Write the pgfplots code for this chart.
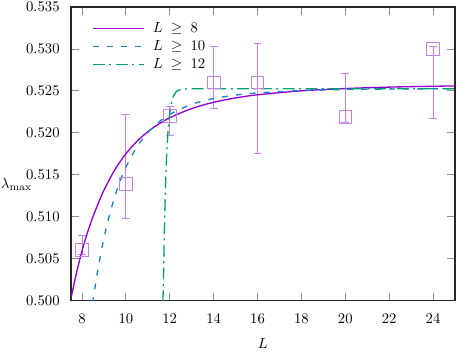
\documentclass[border=0pt]{standalone}
\usepackage{pgfplots}
\pgfplotsset{compat=1.18}
\definecolor{cviolet}{RGB}{148,0,211}
\definecolor{cblue}{RGB}{20,130,200}
\definecolor{cgreen}{RGB}{0,158,115}
\colorlet{cmark}{cviolet!50!white}
\begin{document}
\begin{tikzpicture}
\begin{axis}[
  scale only axis, width=261.1pt, height=199.6pt,
  xmin=7.5, xmax=25, ymin=0.5, ymax=0.535,
  xtick={8,10,...,24},
  ytick={0.500,0.505,0.510,0.515,0.520,0.525,0.530,0.535},
  scaled y ticks=false,
  yticklabel style={/pgf/number format/fixed, /pgf/number format/fixed zerofill, /pgf/number format/precision=3, xshift=-4.2pt},
  xticklabel style={yshift=-5.3pt},
  tick align=inside, xtick pos=both, ytick pos=both,
  xticklabel pos=lower, yticklabel pos=left,
  major tick length=5.2pt,
  tick style={black!45, line width=0.6pt},
  axis line style={black!85, line width=0.7pt},
  xlabel={$L$}, ylabel={$\lambda_{\max}$},
  xlabel style={at={(axis description cs:0.5,-0.145)}, anchor=center},
  ylabel style={at={(axis description cs:-0.142,0.397)}, anchor=center, rotate=-90},
  legend style={draw=none, fill=none, at={(rel axis cs:0,1)}, anchor=north west, xshift=14.3pt, yshift=-8.2pt, inner sep=0pt, row sep=0pt,
    /tikz/every odd column/.append style={column sep=3.5pt}},
  legend cell align=left,
]
\addplot[forget plot, only marks, mark=square, mark size=4.3pt, color=cmark, line width=0.6pt,
  error bars/.cd, y dir=both, y explicit,
  error mark options={rotate=90, mark size=2.7pt, line width=0.6pt, cmark},
  error bar style={line width=0.6pt, cmark}]
  coordinates {
  (8,0.5060) += (0,0.0018) -= (0,0.0005)
  (10,0.5139) += (0,0.0083) -= (0,0.0041)
  (12,0.5220) += (0,0.0012) -= (0,0.0023)
  (14,0.5260) += (0,0.0043) -= (0,0.0031)
  (16,0.5260) += (0,0.0047) -= (0,0.0085)
  (20,0.5219) += (0,0.0052) -= (0,0.0007)
  (24,0.5300) += (0,0.0003) -= (0,0.0083)
  };
\addplot[cviolet, line width=0.9pt, smooth,
  legend image code/.code={\draw[cviolet, line width=0.9pt] (0pt,0pt) -- (34.7pt,0pt);}] coordinates {
  (7.5,0.5003) (7.6,0.5015) (7.75,0.5033) (8.0,0.5059) (8.25,0.5081) (8.5,0.5100)
  (8.75,0.51164) (9.0,0.51315) (9.5,0.51561) (10,0.5175) (10.5,0.51897) (11,0.52013)
  (11.5,0.52105) (12,0.52180) (13,0.52289) (14,0.52364) (15,0.52416) (16,0.52453)
  (18,0.52501) (20,0.52528) (22,0.52545) (24,0.52555) (25,0.52559)
};
\addlegendentry{$L \;\geq\; 8$}
\addplot[cblue, line width=0.9pt, dash pattern=on 4pt off 5.5pt, smooth,
  legend image code/.code={\draw[cblue, line width=0.9pt, dash pattern=on 4pt off 5.5pt] (0pt,0pt) -- (34.7pt,0pt);}] coordinates {
  (8.48,0.4997) (8.75,0.50407) (9.0,0.50742) (9.25,0.51017) (9.5,0.51244) (9.75,0.51432)
  (10,0.51589) (10.5,0.51831) (11,0.52003) (11.5,0.52128) (12,0.5222) (13,0.5234)
  (14,0.52409) (15,0.52450) (16,0.52476) (18,0.52504) (20,0.52516) (22,0.52522) (25,0.52526)
};
\addlegendentry{$L \;\geq\; 10$}
\addplot[cgreen, line width=0.9pt, dash pattern=on 8pt off 3pt on 1.5pt off 3pt,
  legend image code/.code={\draw[cgreen, line width=0.9pt, dash pattern=on 8pt off 3pt on 1.5pt off 3pt] (0pt,0pt) -- (34.7pt,0pt);}] coordinates {
  (11.69,0.4998) (11.72,0.5035) (11.75,0.50777) (11.80,0.51312) (11.85,0.51682) (11.90,0.51938)
  (11.95,0.52116) (12.00,0.52239) (12.05,0.52325) (12.10,0.52385) (12.15,0.52427)
  (12.20,0.52456) (12.30,0.52491) (12.40,0.52508) (12.50,0.52516) (12.75,0.52523)
  (13,0.52525) (25,0.52525)
};
\addlegendentry{$L \;\geq\; 12$}
\coordinate (bl) at (rel axis cs:-0.1849,-0.1789);
\coordinate (tr) at (rel axis cs:1.0052,1.0239);
\end{axis}
\pgfresetboundingbox
\path[use as bounding box] (bl) rectangle (tr);
\end{tikzpicture}
\end{document}
